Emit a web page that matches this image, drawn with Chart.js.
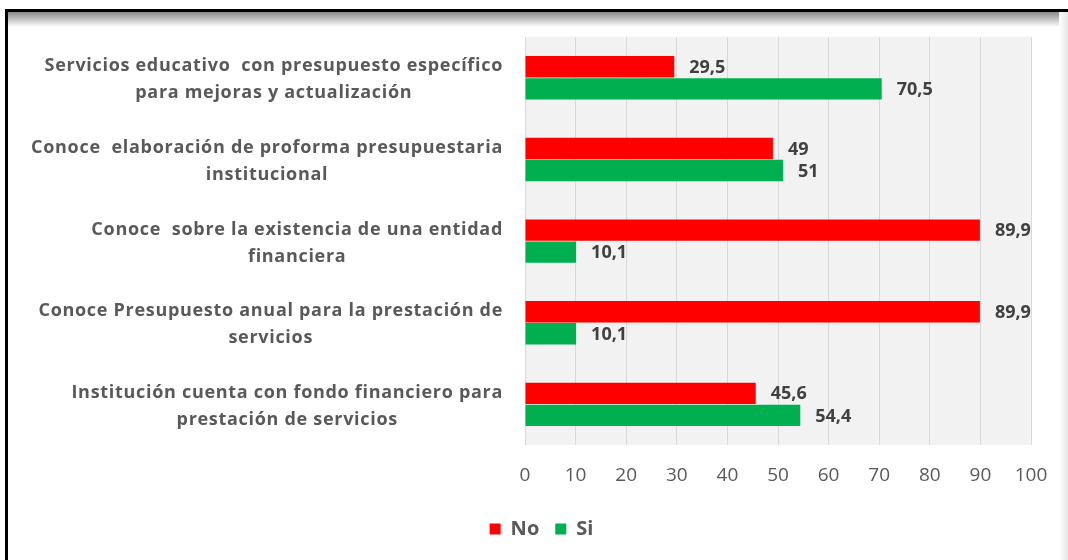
<!DOCTYPE html>
<html>
<head>
<meta charset="utf-8">
<script src="https://cdn.jsdelivr.net/npm/chart.js@4"></script>
<style>
  html, body { margin: 0; padding: 0; background: #fff; }
  #page { position: relative; width: 1068px; height: 560px; overflow: hidden; }
  #frame {
    position: absolute; left: 5px; top: 9px; right: 0; bottom: -5px;
    border-top: 3px solid #000; border-left: 3px solid #000;
  }
  #shadowTop {
    position: absolute; left: 8px; top: 12px; right: 0; height: 15px;
    background: linear-gradient(#8a8a8a, #fff);
  }
  #shadowRight {
    position: absolute; right: 0; top: 12px; bottom: 0; width: 9px;
    background: linear-gradient(to right, #fff, #e6e6e6);
  }
  canvas { position: absolute; left: 0; top: 0; }
</style>
</head>
<body>
<div id="page">
  <div id="frame"></div>
  <div id="shadowTop"></div>
  <div id="shadowRight"></div>
  <canvas id="chart" width="1068" height="560"></canvas>
</div>
<script>
// categories, one array of lines per bar group
const categories = [
  ["Servicios educativo  con presupuesto específico", "para mejoras y actualización"],
  ["Conoce  elaboración de proforma presupuestaria", "institucional"],
  ["Conoce  sobre la existencia de una entidad", "financiera"],
  ["Conoce Presupuesto anual para la prestación de", "servicios"],
  ["Institución cuenta con fondo financiero para", "prestación de servicios"],
];
const noValues = [29.5, 49, 89.9, 89.9, 45.6];
const siValues = [70.5, 51, 10.1, 10.1, 54.4];
const xTicks = [0, 10, 20, 30, 40, 50, 60, 70, 80, 90, 100];

const textGray = "#595959";

// gray plot background
const plotBg = {
  id: "plotBg",
  beforeDraw(chart) {
    const { ctx, chartArea: a } = chart;
    ctx.save();
    ctx.fillStyle = "#f2f2f2";
    ctx.fillRect(a.left, a.top, a.right - a.left, a.bottom - a.top);
    ctx.restore();
  },
};

// legend sits a bit right of the centre of the full width
const legendShift = {
  id: "legendShift",
  afterLayout(chart) {
    chart.legend.left += 26;
    chart.legend.right += 26;
  },
};

// category labels, centred block, right edge near the plot
const catLabels = {
  id: "catLabels",
  afterDraw(chart) {
    const { ctx } = chart;
    const y = chart.scales.y;
    ctx.save();
    ctx.font = "bold 18px 'Open Sans'";
    if ("letterSpacing" in ctx) ctx.letterSpacing = "0.7px";
    ctx.fillStyle = textGray;
    ctx.textAlign = "center";
    ctx.textBaseline = "middle";
    const right = chart.chartArea.left - 22;
    const lh = 27;
    categories.forEach((lines, i) => {
      const cy = y.getPixelForValue(i) + 2;
      const w = Math.max(...lines.map((l) => ctx.measureText(l).width));
      const cx = right - w / 2;
      lines.forEach((l, j) => {
        ctx.fillText(l, cx, cy + (j - (lines.length - 1) / 2) * lh);
      });
    });
    ctx.restore();
  },
};

// value labels at the bar ends
const valueLabels = {
  id: "valueLabels",
  afterDatasetsDraw(chart) {
    const { ctx } = chart;
    ctx.save();
    ctx.font = "bold 18px 'Open Sans'";
    ctx.fillStyle = "#404040";
    ctx.textAlign = "left";
    ctx.textBaseline = "middle";
    chart.data.datasets.forEach((ds, di) => {
      chart.getDatasetMeta(di).data.forEach((bar, i) => {
        ctx.fillText(String(ds.data[i]).replace(".", ","), bar.x + 15, bar.y + 1);
      });
    });
    ctx.restore();
  },
};

new Chart(document.getElementById("chart"), {
  type: "bar",
  data: {
    labels: categories.map((c) => c.join(" ")),
    datasets: [
      { label: "No", data: noValues, backgroundColor: "#ff0000" },
      { label: "Si", data: siValues, backgroundColor: "#00b050" },
    ],
  },
  options: {
    indexAxis: "y",
    responsive: false,
    animation: false,
    layout: { padding: { top: 37, right: 37, bottom: 11, left: 0 } },
    datasets: { bar: { barPercentage: 0.97, categoryPercentage: 0.54 } },
    scales: {
      x: {
        min: 0,
        max: 100,
        afterBuildTicks: (s) => { s.ticks = xTicks.map((v) => ({ value: v })); },
        afterFit: (s) => { s.height -= 3; },
        grid: { color: "#d9d9d9", drawTicks: false },
        border: { display: false },
        ticks: { color: textGray, font: { family: "'Open Sans'", size: 19 }, padding: 19 },
      },
      y: {
        grid: { display: false },
        border: { display: false },
        ticks: { display: false },
        afterFit: (s) => { s.width = 525; },
      },
    },
    plugins: {
      legend: {
        position: "bottom",
        labels: {
          color: textGray,
          font: { family: "'Open Sans'", size: 20, weight: "bold" },
          boxWidth: 11,
          boxHeight: 11,
          padding: 16,
        },
      },
      tooltip: { enabled: false },
    },
  },
  plugins: [plotBg, legendShift, catLabels, valueLabels],
});
</script>
</body>
</html>
